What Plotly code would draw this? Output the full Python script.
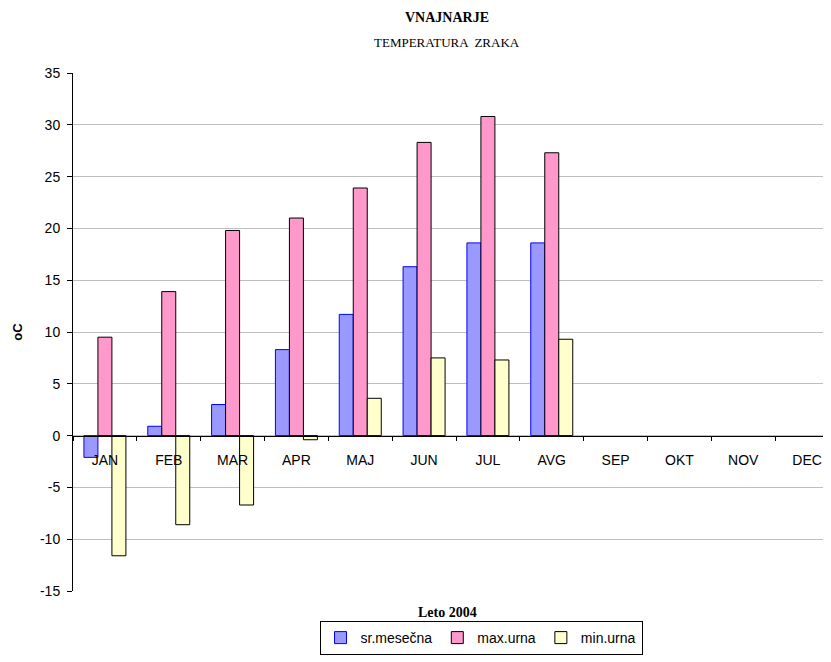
import plotly.graph_objects as go

months = ["JAN", "FEB", "MAR", "APR", "MAJ", "JUN", "JUL", "AVG", "SEP", "OKT", "NOV", "DEC"]
sr_mesecna = [-2.1, 0.9, 3.0, 8.3, 11.7, 16.3, 18.6, 18.6, None, None, None, None]
max_urna = [9.5, 13.9, 19.8, 21.0, 23.9, 28.3, 30.8, 27.3, None, None, None, None]
min_urna = [-11.6, -8.6, -6.7, -0.4, 3.6, 7.5, 7.3, 9.3, None, None, None, None]
ytick_vals = [-15, -10, -5, 0, 5, 10, 15, 20, 25, 30, 35]
ytick_text = ["-15", "-10", "-5", "0", "5", "10", "15", "20", "25", "30", "35"]

series_names = ["sr.mesečna", "max.urna", "min.urna"]
fills = ["#9999FF", "#FF99CC", "#FFFFCC"]
edges = ["#0000FF", "#000000", "#000000"]

# page has an 8px body margin; layout is expressed in screen pixels then shifted
OFF = 8
W, H = 831, 662
L = 73 - OFF
T = 73 - OFF
B = H - (591 - OFF)
R = 0
plot_w = W - L - R
plot_h = H - T - B

fig = go.Figure()
for name, vals, fc, ec in zip(series_names, [sr_mesecna, max_urna, min_urna], fills, edges):
    fig.add_trace(go.Bar(
        x=months, y=vals, name=name,
        marker=dict(color=fc, line=dict(color=ec, width=1)),
    ))

ymin, ymax = -15, 35
zero_pos = (0 - ymin) / (ymax - ymin)

def px_x(px):
    return (px - OFF - L) / plot_w

def px_y(py):
    return (H - B - (py - OFF)) / plot_h

SANS = "Liberation Sans, Arial"
SERIF = "Liberation Serif, Times New Roman"

fig.update_layout(
    width=W, height=H,
    margin=dict(l=L, r=R, t=T, b=B, autoexpand=False),
    paper_bgcolor="white", plot_bgcolor="white",
    barmode="group", bargap=0.342, bargroupgap=0,
    font=dict(family=SANS, size=12, color="black"),
    showlegend=True,
    legend=dict(
        orientation="h", x=px_x(481), y=px_y(621), xanchor="center", yanchor="top",
        bordercolor="black", borderwidth=1, bgcolor="white",
        font=dict(family=SANS, size=14, color="black"),
        itemwidth=30, tracegroupgap=0,
    ),
    xaxis=dict(
        type="category", categoryorder="array", categoryarray=months,
        range=[-0.5, 11.5],
        anchor="free", position=zero_pos, automargin=False,
        showline=True, linecolor="black", linewidth=1,
        ticks="outside", ticklen=4, tickcolor="black", tickson="boundaries",
        showgrid=False, ticklabelstandoff=12,
        tickfont=dict(family=SANS, size=14, color="black"),
    ),
    yaxis=dict(
        range=[ymin, ymax], tickmode="array", tickvals=ytick_vals, ticktext=ytick_text,
        automargin=False,
        showline=True, linecolor="black", linewidth=1,
        ticks="outside", ticklen=5, tickcolor="black",
        showgrid=True, gridcolor="#BFBFBF", gridwidth=1,
        zeroline=False, ticklabelstandoff=4,
        tickfont=dict(family=SANS, size=14, color="black"),
        title=dict(text="<b>oC</b>", standoff=14,
                   font=dict(family=SANS, size=13, color="black")),
    ),
    annotations=[
        dict(text="<b>VNAJNARJE</b>", x=px_x(447), y=px_y(17), xref="paper", yref="paper",
             showarrow=False, xanchor="center", yanchor="middle",
             font=dict(family=SERIF, size=14, color="black")),
        dict(text="TEMPERATURA  ZRAKA", x=px_x(447), y=px_y(42), xref="paper", yref="paper",
             showarrow=False, xanchor="center", yanchor="middle",
             font=dict(family=SERIF, size=13, color="black")),
        dict(text="<b>Leto 2004</b>", x=px_x(447), y=px_y(612), xref="paper", yref="paper",
             showarrow=False, xanchor="center", yanchor="middle",
             font=dict(family=SERIF, size=14, color="black")),
    ],
)

fig.write_html("out.html")
